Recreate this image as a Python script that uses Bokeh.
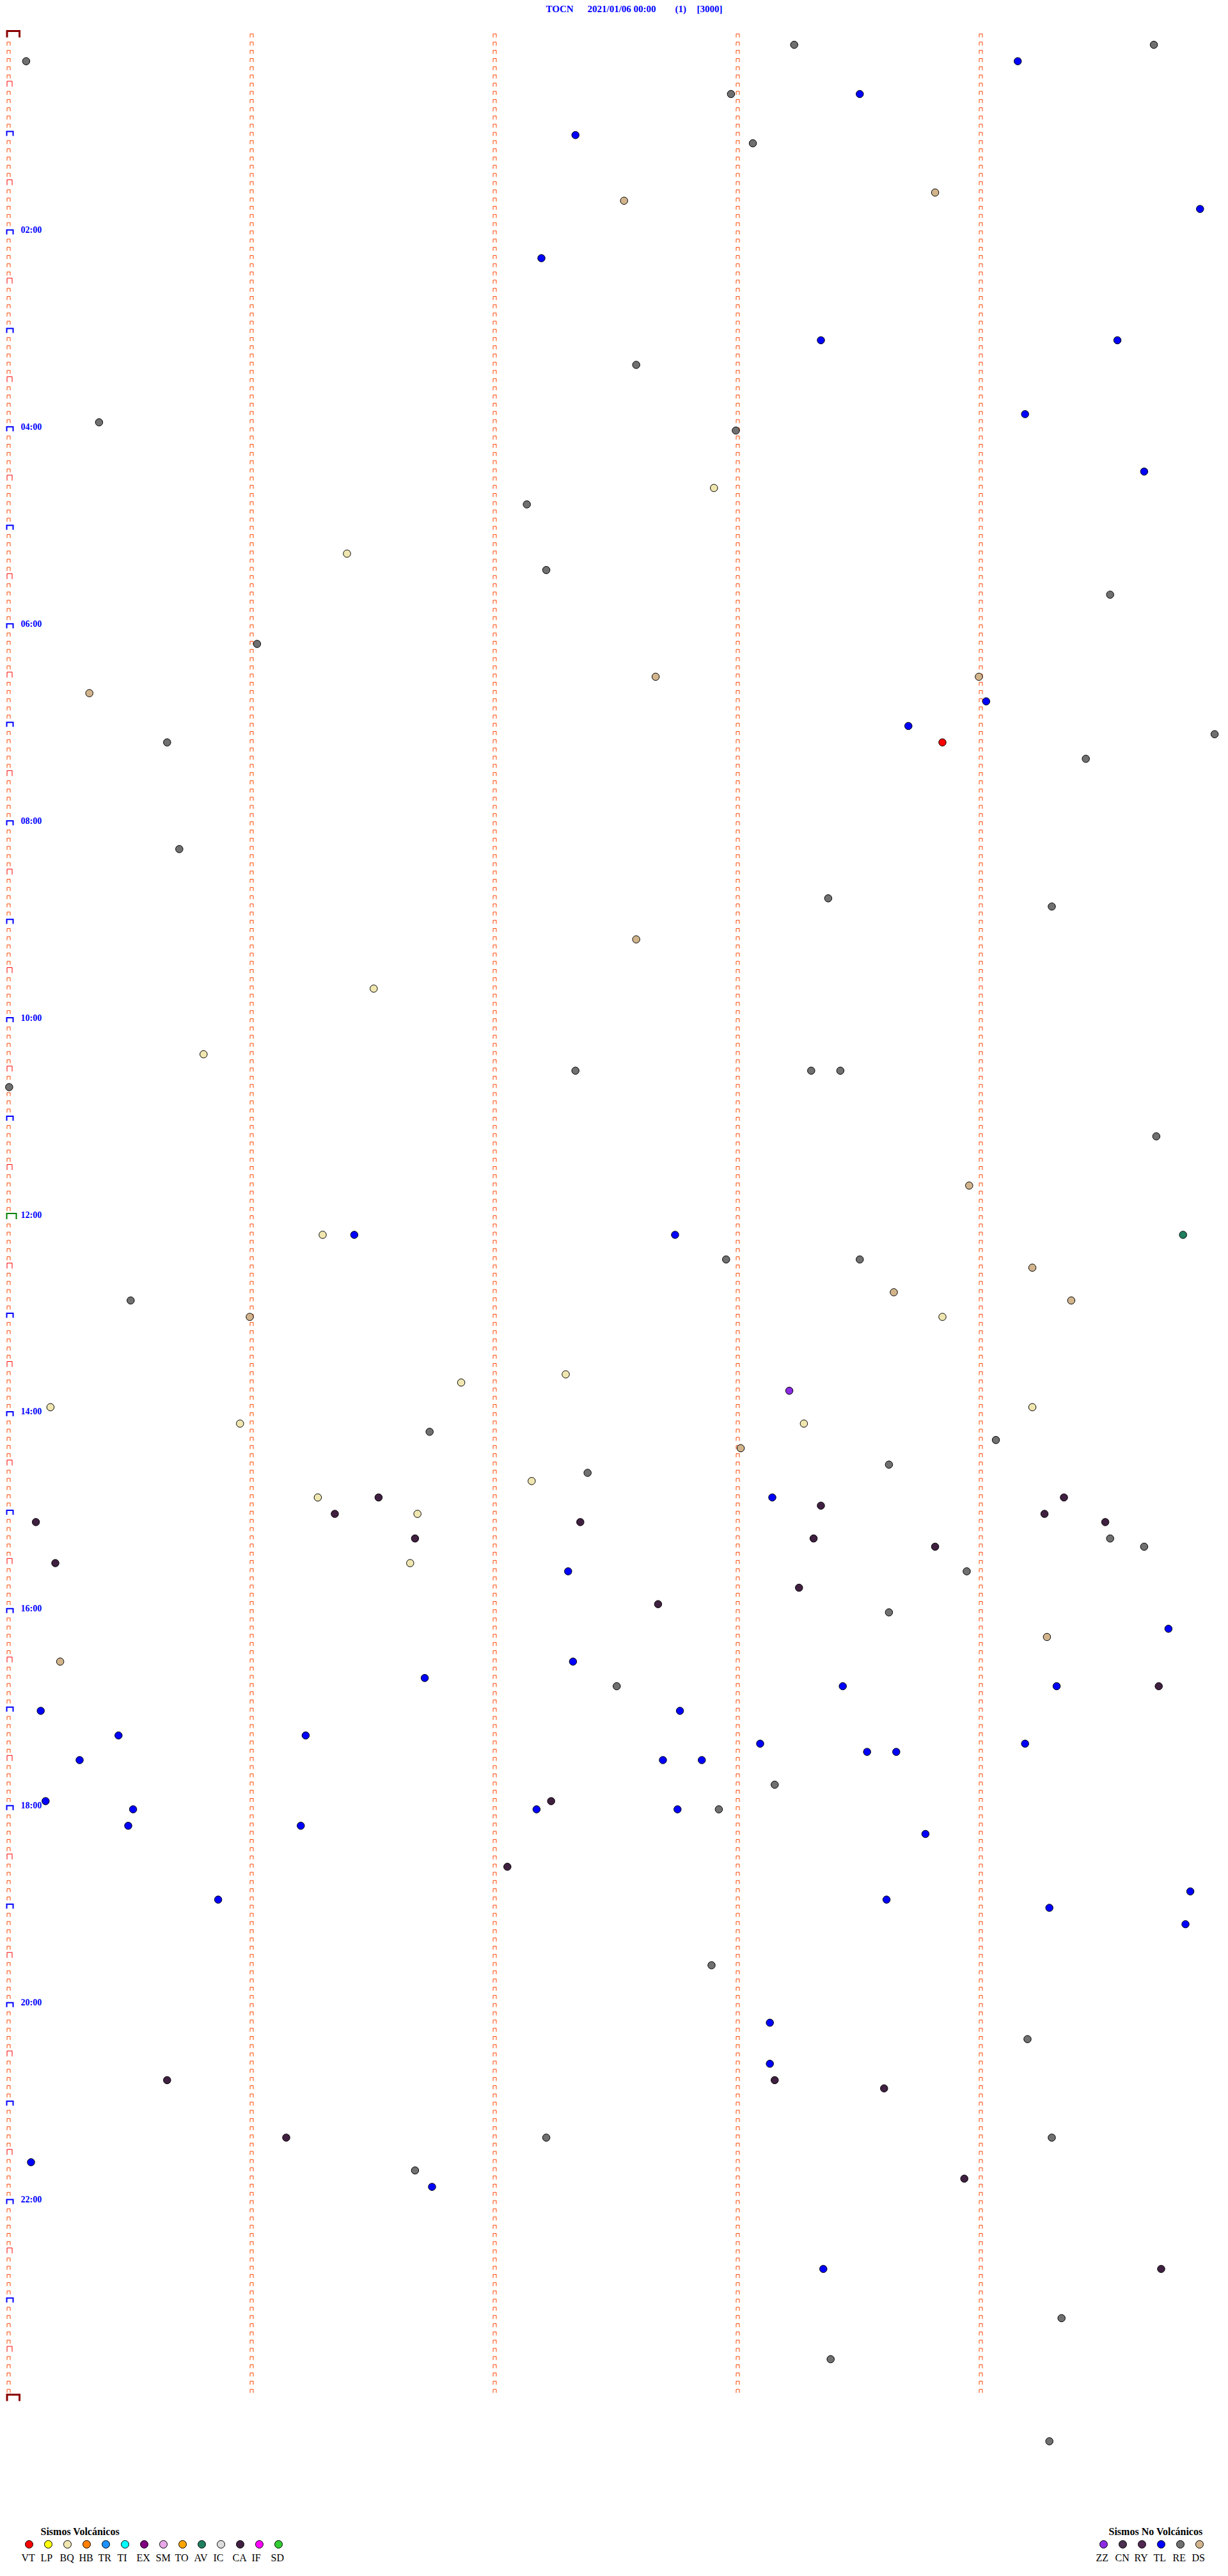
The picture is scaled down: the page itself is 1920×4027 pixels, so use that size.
from bokeh.plotting import figure
from bokeh.models import Range1d
from bokeh.embed import file_html
from bokeh.resources import INLINE
from bokeh.core.properties import value

# ---------------- data ----------------
STATION = "TOCN"
DATE_STR = "2021/01/06 00:00"
CHANNEL = "(1)"
SCALE = "[3000]"
MIN_PER_ROW = 5            # each helicorder row = 5 minutes
N_ROWS = 288               # 24 h
HOUR_LABELS = ["02:00", "04:00", "06:00", "08:00", "10:00", "12:00",
               "14:00", "16:00", "18:00", "20:00", "22:00"]

# event times, minutes after 00:00
RE = [15.08, 8.24, 9.72, 37.98, 68.07, 202.59, 235.38, 243.00, 287.14, 327.22,
      344.54, 371.03, 429.97, 430.66, 444.44, 495.71, 528.38, 534.30, 632.34,
      633.31, 633.43, 640.01, 674.73, 747.96, 748.51, 770.51, 851.74, 859.07,
      877.39, 873.63, 919.54, 924.68, 938.95, 963.63, 1007.51, 1068.16,
      1082.93, 1177.90, 1224.20, 1282.22, 1284.30, 1301.68, 1394.34, 1418.39,
      1469.29]
TL = [19.16, 38.51, 62.34, 109.91, 137.20, 188.35, 189.57, 234.19, 269.68,
      409.03, 423.71, 731.43, 732.75, 893.15, 937.31, 974.78, 992.33, 1001.72,
      1008.44, 1009.32, 1020.14, 1022.77, 1035.46, 1036.23, 1043.10, 1044.19,
      1050.30, 1052.70, 1052.86, 1048.54, 1048.66, 1075.16, 1080.52, 1082.18,
      1082.76, 1090.50, 1091.21, 1098.78, 1135.87, 1138.62, 1134.87, 1144.29,
      1154.85, 1213.14, 1238.14, 1295.10, 1311.75, 1363.36]
DS = [102.54, 98.82, 400.34, 392.67, 394.00, 552.59, 703.96, 754.22, 768.65,
      774.38, 781.00, 863.02, 979.28, 990.22]
BQ = [277.91, 316.40, 581.51, 620.81, 731.30, 783.85, 821.87, 817.30, 835.18,
      839.22, 845.96, 848.28, 891.28, 882.16, 901.69, 931.66]
CA = [891.53, 894.35, 898.35, 905.12, 901.35, 907.36, 904.27, 909.52, 916.68,
      918.32, 923.82, 930.20, 948.26, 957.68, 1009.74, 1077.24, 1117.06,
      1245.66, 1248.16, 1253.61, 1281.15, 1308.94, 1364.75]
ZZ = [828.22]
AV = [734.84]
VT = [433.85]

VOLC_CODES = ["VT", "LP", "BQ", "HB", "TR", "TI", "EX", "SM", "TO", "AV", "IC", "CA", "IF", "SD"]
VOLC_COLORS = ["#FF0000", "#FFFF00", "#F0E6B0", "#FF8000", "#1E90FF", "#00FFFF", "#800080",
               "#E8A8E8", "#FFA500", "#1F7F5F", "#DCDCDC", "#402040", "#FF00FF", "#32CD32"]
NOVOLC_CODES = ["ZZ", "CN", "RY", "TL", "RE", "DS"]
NOVOLC_COLORS = ["#8A2BE2", "#4B3050", "#502850", "#0000FF", "#707070", "#D2B48C"]
COLOR = dict(zip(VOLC_CODES + NOVOLC_CODES, VOLC_COLORS + NOVOLC_COLORS))

EVENTS = {"RE": RE, "TL": TL, "DS": DS, "BQ": BQ, "CA": CA, "ZZ": ZZ, "AV": AV, "VT": VT}

# ---------------- geometry helpers (page pixels -> data units) ----------------
W, H = 1915, 4020
PX_MIN = 380.0     # pixels per minute
PX_ROW = 12.83     # pixels per row


def X(px):
    return (px - 10.0) / PX_MIN


def Y(py):
    return (py - 56.7) / PX_ROW


def row_bottom(k):
    return 58.0 + PX_ROW * k


p = figure(width=W, height=H, output_backend="svg", toolbar_location=None,
           x_range=Range1d(X(0), X(W)), y_range=Range1d(Y(H), Y(0)),
           min_border=0, outline_line_color=None, background_fill_color="white",
           border_fill_color="white")
p.axis.visible = False
p.grid.visible = False

# ---------------- minute tick brackets ----------------
styles = {
    "small": dict(color="#FF4500", lw=1, xl=10.5, xr=15.5, h=5.5),
    "half": dict(color="#FF0000", lw=1, xl=10.5, xr=18.5, h=8.5),
    "hour": dict(color="#0000FF", lw=2, xl=10.0, xr=20.0, h=7.0),
    "noon": dict(color="#008000", lw=2, xl=10.0, xr=25.0, h=9.0),
    "day": dict(color="#8B0000", lw=3, xl=10.5, xr=30.0, h=10.0),
}
paths = {k: ([], []) for k in styles}
for c in range(MIN_PER_ROW):
    for k in range(N_ROWS + 1):
        if c == 0:
            if k == 0 or k == N_ROWS:
                s = "day"
            elif k == N_ROWS // 2:
                s = "noon"
            elif k % 12 == 0:
                s = "hour"
            elif k % 6 == 0:
                s = "half"
            else:
                s = "small"
        else:
            if k == N_ROWS:
                continue
            s = "small"
        st = styles[s]
        xl = st["xl"] + PX_MIN * c
        xr = st["xr"] + PX_MIN * c
        yb = row_bottom(k)
        yt = yb - st["h"]
        paths[s][0].append([X(xl), X(xl), X(xr), X(xr)])
        paths[s][1].append([Y(yb), Y(yt), Y(yt), Y(yb)])

for s, st in styles.items():
    p.multi_line(xs=paths[s][0], ys=paths[s][1], line_color=st["color"],
                 line_width=st["lw"], line_join="miter", line_cap="butt")

# ---------------- hour labels ----------------
lab_rows = [12 * int(t[:2]) for t in HOUR_LABELS]
p.text(x=[X(32)] * len(lab_rows), y=[Y(row_bottom(k) - 7) for k in lab_rows], text=HOUR_LABELS,
       text_font=value("Liberation Serif"), text_font_style="bold", text_font_size="14px",
       text_color="#0000FF", text_baseline="middle", text_align="left")

# ---------------- title ----------------
title_parts = [STATION, DATE_STR, CHANNEL, SCALE]
title_x = [853, 918, 1055, 1089]
p.text(x=[X(v) for v in title_x], y=[Y(13)] * 4, text=title_parts,
       text_font=value("Liberation Serif"), text_font_style="bold", text_font_size="15px",
       text_color="#0000FF", text_baseline="middle", text_align="left")

# ---------------- events ----------------
for code, times in EVENTS.items():
    xs = [t % MIN_PER_ROW for t in times]
    ys = [t // MIN_PER_ROW for t in times]
    p.scatter(x=xs, y=ys, size=11.5, fill_color=COLOR[code], line_color="black", line_width=1)

# ---------------- legends ----------------
def legend(title, codes, colors, title_x, x0):
    p.text(x=[X(title_x)], y=[Y(3957)], text=[title], text_font=value("Liberation Serif"),
           text_font_style="bold", text_font_size="16px", text_color="black",
           text_baseline="middle", text_align="left")
    cx = [x0 + 30 * i for i in range(len(codes))]
    p.scatter(x=[X(v) for v in cx], y=[Y(3977)] * len(codes), size=12,
              fill_color=colors, line_color="black", line_width=1)
    p.text(x=[X(v - 12) for v in cx], y=[Y(3998)] * len(codes), text=codes,
           text_font=value("Liberation Serif"), text_font_size="16px", text_color="black",
           text_baseline="middle", text_align="left")


legend("Sismos Volcánicos", VOLC_CODES, VOLC_COLORS, 63, 45)
legend("Sismos No Volcánicos", NOVOLC_CODES, NOVOLC_COLORS, 1733, 1725)

open("out.html", "w").write(file_html(p, INLINE))
